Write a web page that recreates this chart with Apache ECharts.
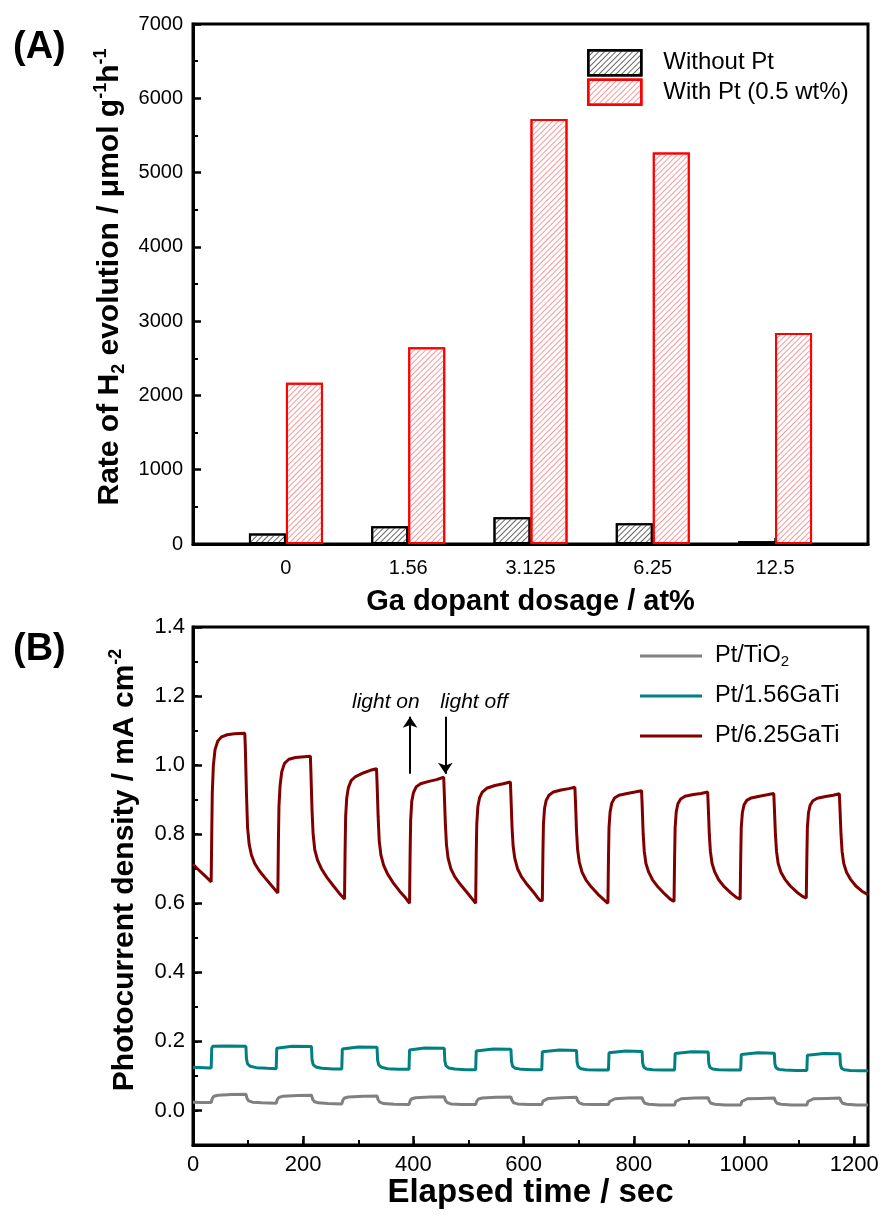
<!DOCTYPE html>
<html><head><meta charset="utf-8">
<script src="https://cdn.jsdelivr.net/npm/echarts@6/dist/echarts.min.js"></script>
<style>html,body{margin:0;padding:0;background:#fff}#c{width:885px;height:1218px}</style>
</head><body><div id="c"></div>
<script>
// ---------- Panel A data ----------
const doseLabels = ['0', '1.56', '3.125', '6.25', '12.5'];
const withoutPt = [140, 240, 360, 280, 36];
const withPt = [2170, 2650, 5720, 5270, 2840];
const yTicksA = [0, 1000, 2000, 3000, 4000, 5000, 6000, 7000];

// ---------- Panel B data ([time s, mA cm-2]) ----------
const timeTicks = [0, 200, 400, 600, 800, 1000, 1200];
const currentTicks = [0, 0.2, 0.4, 0.6, 0.8, 1.0, 1.2, 1.4];
const ptTiO2 = [
[0,0.024],[15,0.023],[33,0.023],[35,0.035],[38,0.041],[45,0.044],[70,0.046],[96,0.047],
[98,0.035],[101,0.028],[108,0.024],[125,0.022],[151,0.021],
[153,0.032],[156,0.038],[163,0.041],[190,0.043],[215,0.044],
[217,0.033],[220,0.026],[227,0.022],[245,0.02],[270,0.019],
[272,0.03],[275,0.036],[282,0.039],[310,0.041],[334,0.042],
[336,0.031],[339,0.024],[346,0.02],[365,0.018],[392,0.017],
[394,0.028],[397,0.034],[404,0.037],[430,0.039],[456,0.04],
[458,0.03],[461,0.023],[468,0.019],[487,0.017],[513,0.017],
[515,0.027],[518,0.033],[525,0.036],[550,0.038],[577,0.039],
[579,0.029],[582,0.022],[589,0.019],[608,0.017],[633,0.017],
[635,0.027],[638,0.032],[645,0.035],[670,0.037],[696,0.038],
[698,0.028],[701,0.022],[708,0.018],[727,0.017],[754,0.017],
[756,0.026],[759,0.031],[766,0.034],[790,0.036],[815,0.037],
[817,0.028],[820,0.021],[827,0.018],[846,0.016],[874,0.016],
[876,0.026],[879,0.031],[886,0.034],[910,0.036],[935,0.037],
[937,0.027],[940,0.021],[947,0.018],[966,0.016],[994,0.016],
[996,0.026],[999,0.031],[1006,0.034],[1030,0.035],[1055,0.036],
[1057,0.027],[1060,0.021],[1067,0.018],[1086,0.016],[1114,0.016],
[1116,0.026],[1119,0.031],[1126,0.034],[1150,0.035],[1174,0.036],
[1176,0.027],[1179,0.021],[1186,0.018],[1205,0.016],[1225,0.016]
];
const pt156GaTi = [
[0,0.125],[20,0.124],[33,0.123],[34,0.18],[36,0.186],[60,0.187],[96,0.186],
[97,0.15],[99,0.135],[104,0.128],[115,0.124],[135,0.122],[151,0.121],
[152,0.18],[154,0.185],[180,0.186],[215,0.185],
[216,0.148],[218,0.133],[223,0.126],[234,0.122],[254,0.12],[270,0.12],
[271,0.178],[273,0.183],[300,0.184],[334,0.183],
[335,0.146],[337,0.132],[342,0.125],[353,0.121],[373,0.119],[392,0.119],
[393,0.175],[395,0.18],[420,0.181],[456,0.18],
[457,0.144],[459,0.13],[464,0.123],[475,0.12],[495,0.118],[513,0.118],
[514,0.172],[516,0.177],[545,0.178],[577,0.177],
[578,0.142],[580,0.128],[585,0.122],[596,0.119],[616,0.118],[633,0.118],
[634,0.17],[636,0.174],[665,0.175],[696,0.174],
[697,0.14],[699,0.127],[704,0.121],[715,0.118],[735,0.117],[754,0.117],
[755,0.167],[757,0.171],[785,0.172],[815,0.171],
[816,0.138],[818,0.126],[823,0.12],[834,0.118],[854,0.117],[874,0.117],
[875,0.165],[877,0.169],[905,0.17],[935,0.169],
[936,0.137],[938,0.125],[943,0.12],[954,0.118],[974,0.117],[994,0.117],
[995,0.162],[997,0.166],[1025,0.167],[1055,0.166],
[1056,0.135],[1058,0.124],[1063,0.119],[1074,0.117],[1094,0.116],[1114,0.116],
[1115,0.16],[1117,0.164],[1145,0.165],[1174,0.164],
[1175,0.133],[1177,0.122],[1182,0.118],[1193,0.116],[1210,0.115],[1225,0.115]
];
const pt625GaTi = [
[0,0.713],[8,0.70],[18,0.685],[28,0.67],[33,0.662],
[34,0.80],[35,0.92],[37,1.00],[40,1.045],[45,1.07],[52,1.082],[62,1.088],[75,1.091],[94,1.092],
[95,1.05],[97,0.92],[99,0.82],[102,0.77],[106,0.74],[112,0.715],[120,0.695],[130,0.675],[142,0.652],[154,0.63],
[155,0.78],[156,0.88],[158,0.94],[161,0.98],[166,1.005],[174,1.017],[186,1.022],[213,1.026],
[214,0.98],[216,0.87],[218,0.80],[221,0.755],[226,0.725],[233,0.70],[243,0.675],[255,0.65],[265,0.63],[275,0.612],
[276,0.75],[277,0.85],[279,0.905],[282,0.935],[287,0.955],[295,0.967],[310,0.978],[322,0.985],[333,0.99],
[334,0.95],[336,0.85],[338,0.78],[341,0.74],[346,0.71],[353,0.685],[363,0.66],[375,0.635],[386,0.615],[393,0.60],
[394,0.74],[395,0.84],[397,0.895],[400,0.92],[405,0.937],[413,0.946],[428,0.953],[442,0.958],[455,0.965],
[456,0.92],[458,0.83],[460,0.77],[463,0.73],[468,0.70],[475,0.677],[485,0.655],[497,0.632],[507,0.612],[513,0.60],
[514,0.74],[515,0.83],[517,0.88],[520,0.905],[525,0.922],[533,0.933],[548,0.941],[563,0.946],[576,0.951],
[577,0.91],[579,0.82],[581,0.765],[584,0.73],[589,0.70],[596,0.677],[606,0.655],[618,0.632],[626,0.615],[630,0.608],[634,0.608],
[635,0.74],[636,0.83],[638,0.875],[641,0.898],[646,0.913],[654,0.922],[668,0.928],[682,0.932],[693,0.936],
[694,0.90],[696,0.81],[698,0.755],[701,0.72],[706,0.69],[713,0.668],[723,0.647],[735,0.626],[746,0.61],[753,0.60],
[754,0.73],[755,0.82],[757,0.865],[760,0.89],[765,0.905],[773,0.913],[788,0.918],[802,0.922],[814,0.926],
[815,0.89],[817,0.80],[819,0.75],[822,0.715],[827,0.69],[834,0.668],[844,0.647],[856,0.627],[866,0.612],[873,0.605],
[874,0.73],[875,0.82],[877,0.865],[880,0.888],[885,0.902],[893,0.91],[908,0.915],[922,0.918],[934,0.922],
[935,0.885],[937,0.80],[939,0.75],[942,0.715],[947,0.69],[954,0.668],[964,0.648],[976,0.63],[986,0.617],[993,0.612],
[994,0.73],[995,0.82],[997,0.862],[1000,0.885],[1005,0.898],[1013,0.905],[1028,0.91],[1042,0.914],[1054,0.918],
[1055,0.88],[1057,0.80],[1059,0.75],[1062,0.715],[1067,0.69],[1074,0.67],[1084,0.65],[1096,0.632],[1106,0.62],[1113,0.615],
[1114,0.73],[1115,0.82],[1117,0.862],[1120,0.884],[1125,0.897],[1133,0.904],[1148,0.909],[1162,0.913],[1173,0.917],
[1174,0.88],[1176,0.80],[1178,0.75],[1181,0.715],[1186,0.69],[1193,0.67],[1203,0.65],[1214,0.635],[1225,0.625]
];
// annotation anchors (data coords)
const lightOnArrow = [[394, 0.975], [394, 1.14]];
const lightOffArrow = [[458, 1.14], [458, 0.975]];
const lightOnText = [350, 1.183];
const lightOffText = [510, 1.183];

const FF = '"Liberation Sans", Arial, sans-serif';
const chart = echarts.init(document.getElementById('c'), null, {renderer: 'canvas'});

const baseAxisLine = {onZero: false, lineStyle: {color: '#000', width: 3}};
const blackTick = (len, w) => ({inside: true, length: len, lineStyle: {color: '#000', width: w}});
const supStyle = {fontSize: 18, fontWeight: 'bold', color: '#000', fontFamily: FF, verticalAlign: 'top', lineHeight: 18};
const subStyle = {fontSize: 18, fontWeight: 'bold', color: '#000', fontFamily: FF, verticalAlign: 'bottom', lineHeight: 18};

const option = {
  animation: false,
  backgroundColor: '#fff',
  textStyle: {fontFamily: FF},
  grid: [
    {left: 193, top: 24, width: 675, height: 520, show: true, borderColor: '#000', borderWidth: 3, backgroundColor: 'transparent'},
    {left: 193, top: 627, width: 675, height: 518, show: true, borderColor: '#000', borderWidth: 3, backgroundColor: 'transparent'}
  ],
  graphic: [
    {type: 'text', left: 13, top: 29, style: {text: '(A)', font: 'bold 38px ' + FF, fill: '#000'}},
    {type: 'text', left: 13, top: 631, style: {text: '(B)', font: 'bold 38px ' + FF, fill: '#000'}}
  ],
  legend: [
    {
      data: ['Without Pt', 'With Pt (0.5 wt%)'],
      orient: 'vertical', left: 587, top: 49, padding: 0, itemWidth: 53, itemHeight: 25, itemGap: 2,
      icon: 'rect', selectedMode: false,
      itemStyle: {borderWidth: 2.5},
      textStyle: {fontSize: 24, lineHeight: 25, color: '#000', fontFamily: FF, padding: [0, 0, 0, 17]}
    },
    {
      data: ['Pt/TiO2', 'Pt/1.56GaTi', 'Pt/6.25GaTi'],
      orient: 'vertical', left: 640, top: 643, padding: 0, itemWidth: 62, itemHeight: 3, itemGap: 14,
      icon: 'rect', selectedMode: false,
      formatter: n => n === 'Pt/TiO2' ? 'Pt/TiO{sub|2}' : n,
      textStyle: {fontSize: 23.5, color: '#000', fontFamily: FF, padding: [0, 0, 0, 8], lineHeight: 26,
        rich: {sub: {fontSize: 15, fontFamily: FF, color: '#000', verticalAlign: 'bottom', lineHeight: 15}}}
    }
  ],
  xAxis: [
    {
      gridIndex: 0, type: 'value', min: -0.76, max: 4.76,
      axisLine: baseAxisLine,
      axisTick: Object.assign(blackTick(6, 2.5), {customValues: [0, 1, 2, 3, 4]}),
      axisLabel: {customValues: [0, 1, 2, 3, 4], formatter: v => doseLabels[Math.round(v)], fontSize: 20, color: '#000', margin: 14, fontFamily: FF},
      splitLine: {show: false},
      name: 'Ga dopant dosage / at%', nameLocation: 'middle', nameGap: 43,
      nameTextStyle: {fontSize: 29, fontWeight: 'bold', color: '#000', fontFamily: FF}
    },
    {
      gridIndex: 1, type: 'value', min: 0, max: 1225, interval: 100, position: 'bottom',
      axisLine: baseAxisLine,
      axisTick: blackTick(5, 2),
      axisLabel: {formatter: v => (Math.round(v) % 200 === 0 && v <= 1200) ? String(Math.round(v)) : '', showMaxLabel: false,
        fontSize: 22, color: '#000', margin: 9, fontFamily: FF},
      splitLine: {show: false},
      name: 'Elapsed time / sec', nameLocation: 'middle', nameGap: 30,
      nameTextStyle: {fontSize: 33, fontWeight: 'bold', color: '#000', fontFamily: FF}
    },
    {
      gridIndex: 1, type: 'value', min: 0, max: 1225, position: 'bottom',
      axisLine: {show: false, onZero: false},
      axisTick: Object.assign(blackTick(9, 2.5), {customValues: timeTicks}),
      axisLabel: {show: false}, splitLine: {show: false}
    }
  ],
  yAxis: [
    {
      gridIndex: 0, type: 'value', min: 0, max: 7000, interval: 1000,
      axisLine: {show: true, onZero: false, lineStyle: {color: '#000', width: 3}},
      axisTick: {show: true, inside: true, length: 8, lineStyle: {color: '#000', width: 2.5}},
      minorTick: {show: true, splitNumber: 2, length: 5, lineStyle: {color: '#000', width: 2}},
      axisLabel: {customValues: yTicksA, formatter: v => String(v), fontSize: 20, color: '#000', margin: 10, fontFamily: FF},
      splitLine: {show: false}, minorSplitLine: {show: false},
      name: 'Rate of H{sub|2} evolution / μmol g{sup|-1}h{sup|-1}', nameLocation: 'middle', nameGap: 40,
      nameTextStyle: {fontSize: 30, fontWeight: 'bold', color: '#000', fontFamily: FF, lineHeight: 36,
        padding: [0, 0, 0, 14], rich: {sub: subStyle, sup: supStyle}}
    },
    {
      gridIndex: 1, type: 'value', min: -0.1, max: 1.4, interval: 0.1, position: 'left',
      axisLine: {show: true, onZero: false, lineStyle: {color: '#000', width: 3}},
      axisTick: {show: true, inside: true, length: 5, lineStyle: {color: '#000', width: 2}},
      axisLabel: {customValues: currentTicks, formatter: v => v.toFixed(1), fontSize: 22, color: '#000', margin: 8, fontFamily: FF},
      splitLine: {show: false},
      name: 'Photocurrent density / mA cm{sup|-2}', nameLocation: 'middle', nameGap: 50,
      nameTextStyle: {fontSize: 30, fontWeight: 'bold', color: '#000', fontFamily: FF, lineHeight: 36,
        padding: [0, 0, 0, 32], rich: {sup: supStyle}}
    },
    {
      gridIndex: 1, type: 'value', min: -0.1, max: 1.4, position: 'left',
      axisLine: {show: false, onZero: false},
      axisTick: {show: true, inside: true, length: 9, customValues: currentTicks, lineStyle: {color: '#000', width: 2.5}},
      axisLabel: {show: false}, splitLine: {show: false}
    }
  ],
  series: [
    {
      name: 'Without Pt', type: 'bar', xAxisIndex: 0, yAxisIndex: 0,
      data: withoutPt.map((v, i) => [i, v]),
      barWidth: 37, barGap: '0%',
      itemStyle: {color: '#fff', borderColor: '#000', borderWidth: 2,
        decal: {symbol: 'rect', symbolSize: 1, color: '#666', dashArrayX: [1, 0], dashArrayY: [1, 2.6], rotation: -Math.PI / 4}}
    },
    {
      name: 'With Pt (0.5 wt%)', type: 'bar', xAxisIndex: 0, yAxisIndex: 0,
      data: withPt.map((v, i) => [i, v]),
      barWidth: 37, barGap: '0%',
      itemStyle: {color: '#fff', borderColor: '#ff0000', borderWidth: 2,
        decal: {symbol: 'rect', symbolSize: 1, color: '#f29a9a', dashArrayX: [1, 0], dashArrayY: [1, 2.6], rotation: -Math.PI / 4}}
    },
    {
      name: 'Pt/TiO2', type: 'line', xAxisIndex: 1, yAxisIndex: 1, data: ptTiO2,
      symbol: 'none', lineStyle: {color: '#808080', width: 3}, itemStyle: {color: '#808080'}
    },
    {
      name: 'Pt/1.56GaTi', type: 'line', xAxisIndex: 1, yAxisIndex: 1, data: pt156GaTi,
      symbol: 'none', lineStyle: {color: '#008080', width: 3}, itemStyle: {color: '#008080'}
    },
    {
      name: 'Pt/6.25GaTi', type: 'line', xAxisIndex: 1, yAxisIndex: 1, data: pt625GaTi,
      symbol: 'none', lineStyle: {color: '#800000', width: 3}, itemStyle: {color: '#800000'},
      markLine: {
        silent: true, symbol: ['none', 'arrow'], symbolSize: 11,
        lineStyle: {color: '#000', width: 2, type: 'solid'}, label: {show: false},
        data: [
          [{coord: lightOnArrow[0]}, {coord: lightOnArrow[1]}],
          [{coord: lightOffArrow[0]}, {coord: lightOffArrow[1]}]
        ]
      },
      markPoint: {
        silent: true, symbol: 'circle', symbolSize: 0,
        label: {show: true, position: 'inside', fontSize: 21, fontStyle: 'italic', color: '#000', fontFamily: FF,
          formatter: p => p.name},
        data: [
          {name: 'light on', coord: lightOnText},
          {name: 'light off', coord: lightOffText}
        ]
      }
    }
  ]
};
chart.setOption(option);
</script></body></html>
